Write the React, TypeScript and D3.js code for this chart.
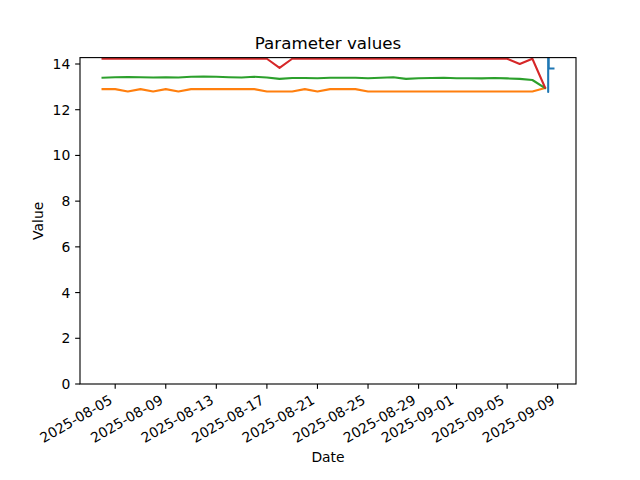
import React from "react";
import * as d3 from "d3";

const W = 640, H = 480;
const M = { left: 80, right: 576, top: 57.6, bottom: 384 };

const dailyDates: Date[] = d3.utcDay.range(new Date(Date.UTC(2025, 7, 4)), new Date(Date.UTC(2025, 8, 9)));

const orangeValues = [12.9,12.9,12.8,12.9,12.8,12.9,12.8,12.9,12.9,12.9,12.9,12.9,12.9,12.8,12.8,12.8,12.9,12.8,12.9,12.9,12.9,
  12.8,12.8,12.8,12.8,12.8,12.8,12.8,12.8,12.8,12.8,12.8,12.8,12.8,12.8,12.95];
const greenValues = [13.40,13.42,13.43,13.42,13.41,13.42,13.41,13.44,13.45,13.44,13.42,13.41,13.44,13.41,13.35,13.39,13.39,13.38,
  13.40,13.40,13.40,13.38,13.40,13.42,13.35,13.38,13.39,13.40,13.38,13.38,13.37,13.39,13.37,13.35,13.30,12.95];
const redValues = [14.23,14.23,14.23,14.23,14.23,14.23,14.23,14.23,14.23,14.23,14.23,14.23,14.23,14.23,13.83,14.23,14.23,14.23,14.23,14.23,14.23,14.23,
  14.23,14.23,14.23,14.23,14.23,14.23,14.23,14.23,14.23,14.23,14.23,14.0,14.23,12.97];

const blueTimes = ["2025-09-08T05:00:00Z", "2025-09-08T06:00:00Z", "2025-09-08T06:30:00Z", "2025-09-08T07:00:00Z", "2025-09-08T16:00:00Z"];
const blueValues = [60, 12.78, 60, 13.8, 13.8];

const xTickLabels = ["2025-08-05","2025-08-09","2025-08-13","2025-08-17","2025-08-21","2025-08-25","2025-08-29","2025-09-01","2025-09-05","2025-09-09"];
const yTicks = [0, 2, 4, 6, 8, 10, 12, 14];
const yMax = 14.28;

const COLORS = { blue: "#1f77b4", orange: "#ff7f0e", green: "#2ca02c", red: "#d62728" };

export default function App() {
  const blueDates = blueTimes.map((t) => new Date(t));
  const allTimes = [...dailyDates, ...blueDates].map((d) => d.getTime());
  const tMin = d3.min(allTimes)!, tMax = d3.max(allTimes)!;
  const pad = (tMax - tMin) * 0.05;
  const x = d3.scaleUtc().domain([new Date(tMin - pad), new Date(tMax + pad)]).range([M.left, M.right]);
  const y = d3.scaleLinear().domain([0, yMax]).range([M.bottom, M.top]);

  type P = { t: Date; v: number };
  const line = d3.line<P>().x((p) => x(p.t)).y((p) => y(p.v));
  const mk = (vals: number[]) => vals.map((v, i) => ({ t: dailyDates[i], v }));
  const series = [
    { color: COLORS.blue, pts: blueValues.map((v, i) => ({ t: blueDates[i], v })) },
    { color: COLORS.orange, pts: mk(orangeValues) },
    { color: COLORS.green, pts: mk(greenValues) },
    { color: COLORS.red, pts: mk(redValues) },
  ];

  const font = "'DejaVu Sans', sans-serif";
  const tickLen = 4.86;
  const fs = 13.9;
  const asc = 0.76 * fs, desc = 0.24 * fs;
  const labelTop = M.bottom + tickLen + 4.86;

  return (
    <svg width={W} height={H} style={{ display: "block", position: "absolute", left: 0, top: 0 }} fontFamily={font}>
      <rect x={0} y={0} width={W} height={H} fill="#fff" />
      <defs>
        <clipPath id="plotclip">
          <rect x={M.left} y={M.top} width={M.right - M.left} height={M.bottom - M.top} />
        </clipPath>
      </defs>
      <g clipPath="url(#plotclip)">
        {series.map((s, i) => (
          <path key={i} d={line(s.pts) || ""} fill="none" stroke={s.color} strokeWidth={2.08} strokeLinejoin="round" strokeLinecap="square" />
        ))}
      </g>
      {/* spines */}
      <rect x={M.left} y={M.top} width={M.right - M.left} height={M.bottom - M.top} fill="none" stroke="#000" strokeWidth={1.11} />
      {/* y ticks */}
      {yTicks.map((t) => (
        <g key={t}>
          <line x1={M.left - tickLen} x2={M.left} y1={y(t)} y2={y(t)} stroke="#000" strokeWidth={1.11} />
          <text x={M.left - tickLen - 4.86} y={y(t)} dy="0.36em" textAnchor="end" fontSize={fs} fill="#000">{t}</text>
        </g>
      ))}
      {/* x ticks */}
      {xTickLabels.map((lab) => {
        const d = new Date(lab + "T00:00:00Z");
        const tx = x(d);
        const ox = tx - 0.5 * desc;
        const oy = labelTop + 0.866 * asc;
        return (
          <g key={lab}>
            <line x1={tx} x2={tx} y1={M.bottom} y2={M.bottom + tickLen} stroke="#000" strokeWidth={1.11} />
            <text x={ox} y={oy} textAnchor="end" fontSize={fs} fill="#000" transform={`rotate(-30 ${ox} ${oy})`}>{lab}</text>
          </g>
        );
      })}
      <text x={(M.left + M.right) / 2} y={49.3} textAnchor="middle" fontSize={16.7} fill="#000">Parameter values</text>
      <text x={(M.left + M.right) / 2} y={462} textAnchor="middle" fontSize={fs} fill="#000">Date</text>
      <text transform={`translate(43, ${(M.top + M.bottom) / 2}) rotate(-90)`} textAnchor="middle" fontSize={fs} fill="#000">Value</text>
    </svg>
  );
}
